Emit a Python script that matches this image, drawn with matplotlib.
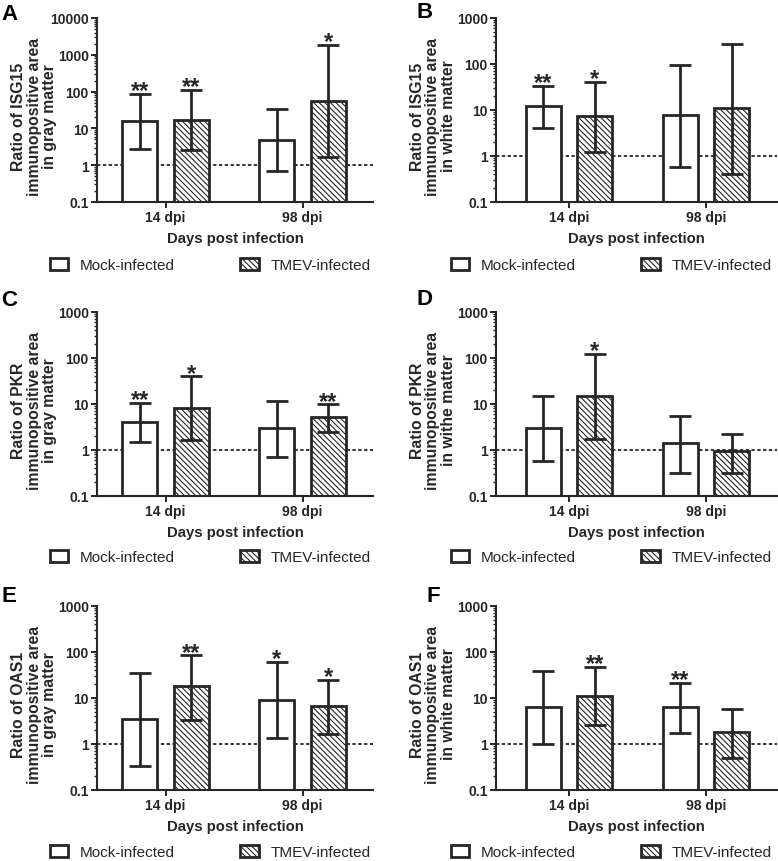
import matplotlib

matplotlib.use("Agg")
import matplotlib.pyplot as plt
import numpy as np
from matplotlib.patches import Patch

plt.rcParams["font.family"] = ["Liberation Sans", "DejaVu Sans"]
plt.rcParams["hatch.linewidth"] = 0.8
plt.rcParams["hatch.color"] = "#2a2a2a"

groups = ["14 dpi", "98 dpi"]
series = ["Mock-infected", "TMEV-infected"]

# per panel: mean, lower, upper for [mock14, tmev14, mock98, tmev98]
isg15_gray = [15.8, 16.9, 4.6, 57]
isg15_gray_lo = [2.7, 2.6, 0.69, 1.7]
isg15_gray_hi = [86, 111, 33, 1870]
isg15_gray_stars = ["**", "**", "", "*"]

isg15_white = [12, 7.3, 7.7, 10.7]
isg15_white_lo = [4.06, 1.24, 0.58, 0.40]
isg15_white_hi = [34, 40.6, 97, 277]
isg15_white_stars = ["**", "*", "", ""]

pkr_gray = [4.06, 8.2, 2.9, 5.2]
pkr_gray_lo = [1.49, 1.62, 0.70, 2.46]
pkr_gray_hi = [10.5, 40, 11.8, 9.8]
pkr_gray_stars = ["**", "*", "", "**"]

pkr_white = [2.9, 14.9, 1.33, 0.875]
pkr_white_lo = [0.59, 1.76, 0.32, 0.32]
pkr_white_hi = [14.9, 122, 5.5, 2.23]
pkr_white_stars = ["", "*", "", ""]

oas1_gray = [3.39, 17.7, 9.1, 6.5]
oas1_gray_lo = [0.33, 3.39, 1.33, 1.62]
oas1_gray_hi = [34.6, 85, 62, 24.8]
oas1_gray_stars = ["", "**", "*", "*"]

oas1_white = [6.3, 10.9, 6.3, 1.74]
oas1_white_lo = [1.0, 2.6, 1.77, 0.50]
oas1_white_hi = [38, 46.8, 21.3, 5.8]
oas1_white_stars = ["", "**", "**", ""]

panels = [
    ("A", "Ratio of ISG15\nimmunopositive area\nin gray matter",
     isg15_gray, isg15_gray_lo, isg15_gray_hi, isg15_gray_stars, 10000),
    ("B", "Ratio of ISG15\nimmunopositive area\nin white matter",
     isg15_white, isg15_white_lo, isg15_white_hi, isg15_white_stars, 1000),
    ("C", "Ratio of PKR\nimmunopositive area\nin gray matter",
     pkr_gray, pkr_gray_lo, pkr_gray_hi, pkr_gray_stars, 1000),
    ("D", "Ratio of PKR\nimmunopositive area\nin withe matter",
     pkr_white, pkr_white_lo, pkr_white_hi, pkr_white_stars, 1000),
    ("E", "Ratio of OAS1\nimmunopositive area\nin gray matter",
     oas1_gray, oas1_gray_lo, oas1_gray_hi, oas1_gray_stars, 1000),
    ("F", "Ratio of OAS1\nimmunopositive area\nin white matter",
     oas1_white, oas1_white_lo, oas1_white_hi, oas1_white_stars, 1000),
]

W, H = 778, 862
fig = plt.figure(figsize=(W / 100, H / 100), dpi=100)
ink = "#262626"
hatch = "\\" * 6

# axes boxes in pixels: left, top
boxes = [(97, 19), (496, 19), (97, 313), (496, 313), (97, 607), (496, 607)]
letter_pos = [(9, 14), (425, 12), (9, 301), (425, 300), (9, 596), (433, 597)]
legend_pos = [(50, 266), (451, 266), (50, 558), (451, 558), (50, 853), (451, 853)]
ax_h = 184

for i, (letter, ylab, vals, lo, hi, stars, ytop) in enumerate(panels):
    left, top = boxes[i]
    right_col = i % 2 == 1
    xlim = (-0.066, 4.04) if right_col else (0, 4.03)
    ax_w = (xlim[1] - xlim[0]) * 68.5
    ax = fig.add_axes([left / W, 1 - (top + ax_h) / H, ax_w / W, ax_h / H])

    x = np.array([1 - 0.375, 1 + 0.375, 3 - 0.375, 3 + 0.375])
    vals = np.array(vals)
    err = [vals - np.array(lo), np.array(hi) - vals]

    ax.axhline(1, color="black", lw=1.1, ls=(0, (2.2, 1.6)), zorder=1)
    for k in range(4):
        tmev = k % 2 == 1
        ax.bar(x[k], vals[k], width=0.51, bottom=0.1, color="white",
               edgecolor=ink, linewidth=2.0, hatch=hatch if tmev else None,
               zorder=2)
    ax.errorbar(x, vals, yerr=err, fmt="none", ecolor=ink, elinewidth=2.0,
                capsize=8, capthick=2.0, zorder=3)
    for k in range(4):
        if stars[k]:
            ax.annotate(stars[k], (x[k], hi[k]), xytext=(0, -6),
                        textcoords="offset points", ha="center", va="bottom",
                        fontsize=17, fontweight="bold", color=ink)

    ax.set_yscale("log")
    ax.set_ylim(0.1, ytop)
    ax.set_xlim(*xlim)
    yt = [10.0 ** p for p in range(-1, int(np.log10(ytop)) + 1)]
    ax.set_yticks(yt)
    ax.set_yticklabels(["0.1"] + [str(int(v)) for v in yt[1:]])
    ax.set_xticks([1, 3])
    ax.set_xticklabels(groups)
    for lab in ax.get_xticklabels() + ax.get_yticklabels():
        lab.set_fontweight("bold")
        lab.set_color(ink)
    ax.tick_params(axis="both", which="major", labelsize=10, width=1.4,
                   length=4, color=ink, pad=2)
    ax.tick_params(axis="y", which="minor", width=1.0, length=2.5, color=ink)
    for s in ["top", "right"]:
        ax.spines[s].set_visible(False)
    for s in ["left", "bottom"]:
        ax.spines[s].set_linewidth(1.5)
        ax.spines[s].set_color(ink)

    ax.set_xlabel("Days post infection", fontsize=10.7, fontweight="bold",
                  color=ink, labelpad=5)
    ax.set_ylabel(ylab, fontsize=11.3, fontweight="bold", color=ink,
                  linespacing=1.05)
    ax.yaxis.set_label_coords(-63 / ax_w, 0.47)
    ax.yaxis.label.set_va("center")

    lx, ly = letter_pos[i]
    fig.text(lx / W, 1 - ly / H, letter, fontsize=16, fontweight="bold",
             ha="center", va="center", color="black")

    handles = [
        Patch(facecolor="white", edgecolor=ink, linewidth=2.0, label=series[0]),
        Patch(facecolor="white", edgecolor=ink, linewidth=2.0, hatch=hatch,
              label=series[1]),
    ]
    gx, gy = legend_pos[i]
    fig.legend(handles=handles, loc="center left",
               bbox_to_anchor=(gx / W, 1 - gy / H), ncol=2, frameon=False,
               fontsize=11, handlelength=1.2, handleheight=0.8,
               handletextpad=0.75, columnspacing=4.3, borderpad=0,
               borderaxespad=0, labelcolor=ink)

fig.savefig("out.png", dpi=100)
